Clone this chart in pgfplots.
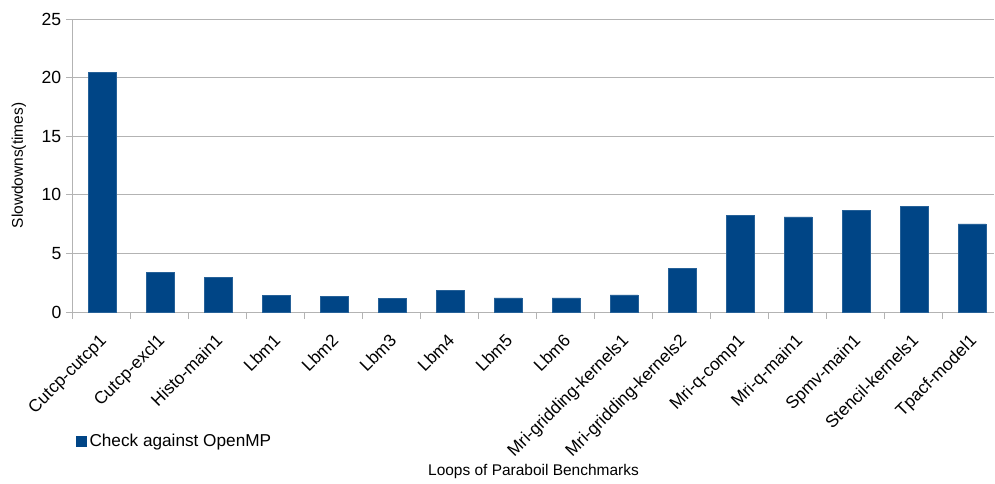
\documentclass[border=0pt]{standalone}
\usepackage{pgfplots}
\pgfplotsset{compat=1.18}
\usepackage{fontspec}
\setmainfont{Liberation Sans}
\definecolor{barblue}{HTML}{004586}
\definecolor{gridgray}{HTML}{B3B3B3}
\pgfplotstableread{
x y
0 20.43
1 3.37
2 2.98
3 1.41
4 1.33
5 1.19
6 1.84
7 1.21
8 1.21
9 1.47
10 3.73
11 8.22
12 8.11
13 8.68
14 9.03
15 7.51
}\datatable
\begin{document}
\begin{tikzpicture}
\path[use as bounding box] (-54.75pt,-128.25pt) rectangle (691.5pt,234pt);
\begin{axis}[
  scale only axis,
  width=690.75pt, height=219.75pt,
  xmin=-0.5, xmax=15.38,
  ymin=0, ymax=25,
  ytick={0,5,...,25},
  /pgf/number format/assume math mode=true,
  axis x line=bottom, axis y line=left,
  axis line style={-, draw=gridgray, line width=0.75pt},
  ymajorgrids,
  grid style={draw=gridgray, line width=0.75pt},
  tick align=outside,
  major tick length=5.25pt,
  minor tick length=5.25pt,
  tick style={draw=gridgray, line width=0.75pt},
  xtick={0,...,15},
  every major x tick/.append style={draw=none},
  minor xtick={-0.5,0.5,...,15.5},
  xticklabels={Cutcp-cutcp1,Cutcp-excl1,Histo-main1,Lbm1,Lbm2,Lbm3,Lbm4,Lbm5,Lbm6,Mri-gridding-kernels1,Mri-gridding-kernels2,Mri-q-comp1,Mri-q-main1,Spmv-main1,Stencil-kernels1,Tpacf-model1},
  x tick label style={xshift=-2.5pt, yshift=-9pt, rotate=45, anchor=north east, font=\fontsize{13}{15}\selectfont, inner sep=1pt},
  y tick label style={font=\fontsize{13.2}{15}\selectfont, text=black},
  xlabel={Loops of Paraboil Benchmarks},
  xlabel style={at={(rel axis cs:0.5,-0.5597)}, anchor=base, font=\fontsize{11.6}{14}\selectfont},
  ylabel={Slowdowns(times)},
  ylabel style={at={(rel axis cs:-0.0543,0.5)}, anchor=base, rotate=0, font=\fontsize{11.6}{14}\selectfont},
  legend style={at={(rel axis cs:0.0033,-0.4403)}, anchor=west, draw=none, fill=none, inner sep=0pt, font=\fontsize{12.9}{15}\selectfont},
  legend cell align=left,
  legend image code/.code={\fill[barblue] (0pt,-3.75pt) rectangle (7.5pt,3.75pt);},
  clip=false,
]
\addplot[ybar, bar width=0.48, fill=barblue, draw=barblue!85!white, line width=0.4pt] table[x=x,y=y] {\datatable};
\addlegendentry{Check against OpenMP}
\end{axis}
\end{tikzpicture}
\end{document}
